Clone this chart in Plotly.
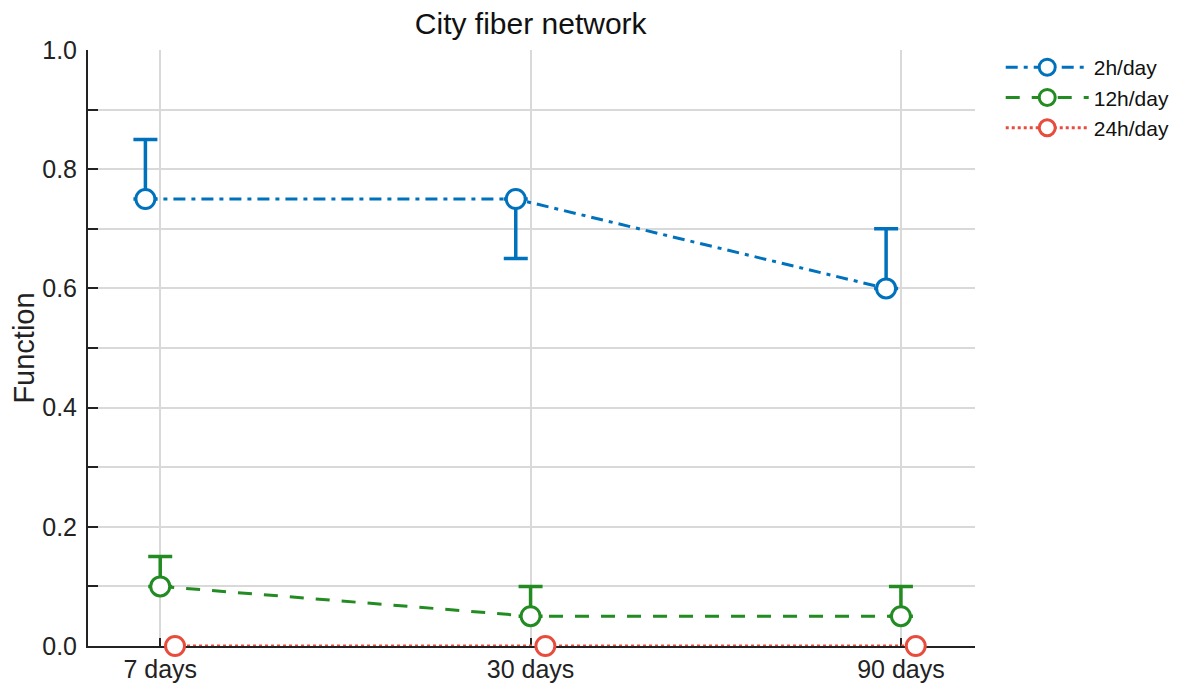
import plotly.graph_objects as go

categories = ["7 days", "30 days", "90 days"]
series_names = ["2h/day", "12h/day", "24h/day"]
mean_2h = [0.75, 0.75, 0.60]
mean_12h = [0.10, 0.05, 0.05]
mean_24h = [0.0, 0.0, 0.0]
err_up_2h = [0.10, 0.0, 0.10]
err_down_2h = [0.0, 0.10, 0.0]
err_up_12h = [0.05, 0.05, 0.05]
err_down_12h = [0.0, 0.0, 0.0]

colors = ["#0072BD", "#228B22", "#E74C3C"]
dashes = ["12px,6px,4px,6px", "14px,12px", "3px,3px"]
offsets = [-0.04, 0.0, 0.04]

values = [mean_2h, mean_12h, mean_24h]
errs = [(err_up_2h, err_down_2h), (err_up_12h, err_down_12h), None]

fig = go.Figure()
for i, name in enumerate(series_names):
    xs = [k + offsets[i] for k in range(len(categories))]
    err = None
    if errs[i] is not None:
        err = dict(type="data", symmetric=False, array=errs[i][0], arrayminus=errs[i][1],
                   color=colors[i], thickness=3.5, width=12)
    fig.add_trace(go.Scatter(
        x=xs, y=values[i], name=name, mode="lines+markers",
        line=dict(color=colors[i], width=3, dash=dashes[i]),
        marker=dict(symbol="circle", size=19, color="white",
                    line=dict(color=colors[i], width=3)),
        error_y=err, cliponaxis=False,
    ))

# page body has an 8px margin, so the figure is sized/offset to compensate
fig.update_layout(
    width=1180, height=676,
    plot_bgcolor="white", paper_bgcolor="white",
    font=dict(family="Liberation Sans, Arial, sans-serif", size=25, color="#222"),
    title=dict(text="City fiber network", x=0.443, xanchor="center",
               y=0.977, yanchor="middle",
               font=dict(size=30, color="#111")),
    margin=dict(l=80, r=213, t=42, b=38, autoexpand=False),
    legend=dict(x=1.029, y=1.005, xanchor="left", yanchor="top", itemwidth=83,
                font=dict(size=21, color="#111"), tracegroupgap=0),
    showlegend=True,
)
fig.update_xaxes(
    range=[-0.195, 2.2], tickvals=[0, 1, 2], ticktext=categories,
    tickfont=dict(size=25), automargin=False, layer="below traces",
    showline=True, linecolor="#222", linewidth=2,
    ticks="inside", ticklen=8, tickwidth=1.5, tickcolor="#222",
    showgrid=True, gridcolor="#d9d9d9", gridwidth=1.5, zeroline=False,
)
fig.update_yaxes(
    title=dict(text="Function", standoff=14, font=dict(size=29)),
    range=[0, 1.0], dtick=0.2, tickformat=".1f",
    tickfont=dict(size=25), automargin=False, layer="below traces",
    ticklabelstandoff=4,
    showline=True, linecolor="#222", linewidth=2,
    ticks="inside", ticklen=10, tickwidth=2, tickcolor="#222",
    showgrid=True, gridcolor="#d9d9d9", gridwidth=1.5, zeroline=False,
    minor=dict(dtick=0.1, ticks="inside", ticklen=10, tickwidth=2, tickcolor="#222",
               showgrid=True, gridcolor="#d9d9d9", gridwidth=1.5),
)

fig.write_html("out.html")
